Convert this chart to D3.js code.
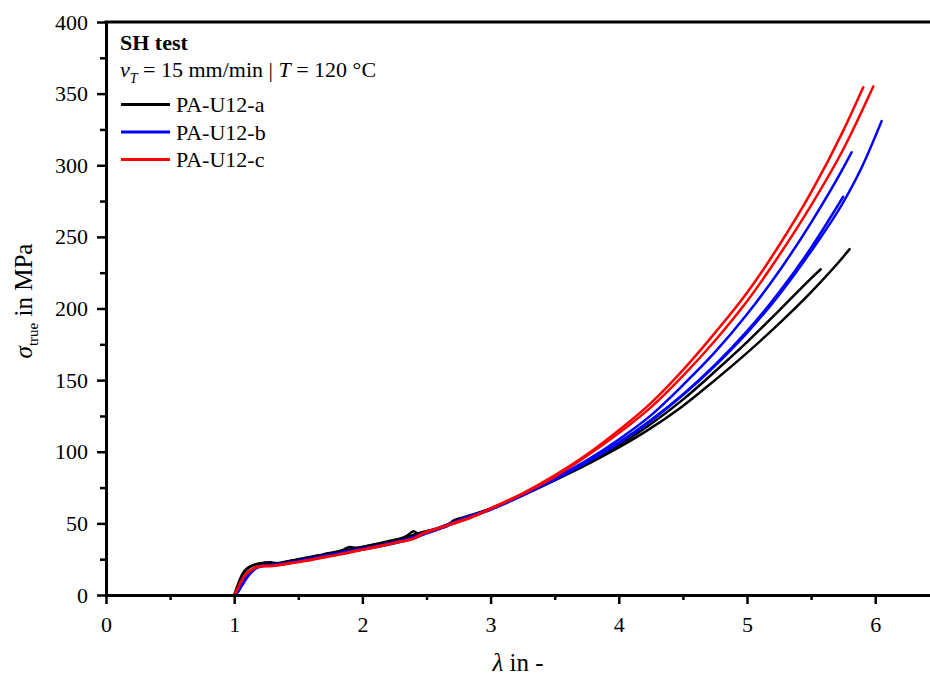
<!DOCTYPE html>
<html>
<head>
<meta charset="utf-8">
<script src="https://cdn.jsdelivr.net/npm/d3@7"></script>
<style>
  body { margin: 0; background: #fff; }
  svg { display: block; }
  text { font-family: "Liberation Serif", "Times New Roman", serif; fill: #000; }
</style>
</head>
<body>
<svg id="chart" width="930" height="676"></svg>
<script>
// ---- data: true stress vs. stretch, SH test at 120 °C ----
const sampleNames = ["PA-U12-a", "PA-U12-b", "PA-U12-c"];

const xTicks = [0, 1, 2, 3, 4, 5, 6];
const xMinorTicks = [0.5, 1.5, 2.5, 3.5, 4.5, 5.5];
const yTicks = [0, 50, 100, 150, 200, 250, 300, 350, 400];
const yMinorTicks = [25, 75, 125, 175, 225, 275, 325, 375];

// PA-U12-a, specimen 1
const lambdaA1 = [1.00,1.02,1.045,1.07,1.10,1.14,1.20,1.28,1.33,1.40,1.55,1.70,1.85,1.90,1.95,2.05,2.20,2.35,2.40,2.44,2.50,2.60,2.66,2.71,2.80,3.00,3.25,3.50,3.75,4.00,4.25,4.50,4.75,5.00,5.25,5.50,5.75,5.80];
const sigmaA1  = [0,5,11,15.5,18.5,20.5,22,22.8,22.2,23.2,25.8,28.5,31.5,33.5,33,34.5,37.5,41.5,44.5,42.5,44.5,46.5,48,52,54.5,60,69.5,80,91,103,116.5,132,150,169,189.5,211.5,236,241.4];
// PA-U12-a, specimen 2
const lambdaA2 = [1.00,1.02,1.045,1.07,1.10,1.14,1.20,1.28,1.33,1.40,1.55,1.70,1.85,2.00,2.20,2.35,2.45,2.55,2.70,2.85,3.00,3.25,3.50,3.75,4.00,4.25,4.50,4.75,5.00,5.25,5.50,5.575];
const sigmaA2  = [0,4.5,10.5,15,18,20.5,22,22.5,22,23,25.5,28.2,31,33.5,37,40.5,43.5,45.5,50.5,55.5,60.5,70,81,92,104.5,119.3,136.4,156,176.5,198.5,221,227.4];

// PA-U12-b, specimens 1–3
const lambdaB1 = [1.00,1.02,1.04,1.07,1.10,1.13,1.17,1.22,1.30,1.40,1.55,1.70,1.85,2.00,2.15,2.30,2.40,2.50,2.60,2.70,2.85,3.00,3.25,3.50,3.75,4.00,4.25,4.50,4.75,5.00,5.25,5.50,5.75,5.816];
const sigmaB1  = [0,1.5,4.5,9,13,16.5,19,20.5,21,22,24.5,27,29.5,32,34.5,37.5,40,43.5,46.5,50,55,60,70,81.5,94,108.6,125.4,146.5,169.5,196,226,260,298,309];
const lambdaB2 = [1.00,1.02,1.04,1.07,1.10,1.13,1.17,1.22,1.30,1.40,1.55,1.70,1.85,2.00,2.15,2.30,2.40,2.50,2.60,2.70,2.85,3.00,3.25,3.50,3.75,4.00,4.25,4.50,4.75,5.00,5.25,5.50,5.75];
const sigmaB2  = [0,2,5.5,10,14,17,19.5,20.5,21.2,22.3,24.8,27.3,30,32.5,35,38,40.5,44,47,50.5,55.5,60,70,81,93,106.4,122.1,140,160.6,184.2,211.3,242.4,278];
const lambdaB3 = [1.00,1.02,1.04,1.07,1.10,1.13,1.17,1.22,1.30,1.40,1.55,1.70,1.85,2.00,2.15,2.30,2.40,2.50,2.60,2.70,2.85,3.00,3.25,3.50,3.75,4.00,4.25,4.50,4.75,5.00,5.25,5.50,5.75,5.90,6.05];
const sigmaB3  = [0,1,3.5,8,12,15.5,18.5,20,20.8,21.8,24.2,26.8,29.3,31.8,34.2,37.2,39.5,43,46,49.5,54.5,59.5,69.5,80.5,92.5,106,121.5,139.5,160,183,209.5,240,274,299.5,330.8];

// PA-U12-c, specimens 1–2
const lambdaC1 = [1.00,1.02,1.05,1.08,1.12,1.16,1.22,1.30,1.40,1.55,1.70,1.85,2.00,2.15,2.30,2.40,2.48,2.60,2.70,2.85,3.00,3.25,3.50,3.75,4.00,4.25,4.50,4.75,5.00,5.25,5.50,5.75,5.907];
const sigmaC1  = [0,3.5,9,13.5,17,19,20.3,20.5,21.8,24,26.5,29,31.8,34.5,37.5,39.5,43.5,47,50,54.5,60.5,71,83.5,98,115,134,157,183,211,244,281,324,354.5];
const lambdaC2 = [1.00,1.02,1.05,1.08,1.12,1.16,1.22,1.30,1.40,1.55,1.70,1.85,2.00,2.15,2.30,2.40,2.48,2.60,2.70,2.85,3.00,3.25,3.50,3.75,4.00,4.25,4.50,4.75,5.00,5.25,5.50,5.75,5.985];
const sigmaC2  = [0,3,8.5,13,16.5,18.8,20,20.3,21.5,23.7,26.2,28.7,31.5,34.2,37.2,39.2,43,46.5,49.5,54,60,70.5,82.5,97,113,131,153,177.5,205,237,272,311,355];

// grouped per sample, drawn black → blue → red
const samples = [
  { name: sampleNames[0], curves: [[lambdaA1, sigmaA1], [lambdaA2, sigmaA2]] },
  { name: sampleNames[1], curves: [[lambdaB1, sigmaB1], [lambdaB2, sigmaB2], [lambdaB3, sigmaB3]] },
  { name: sampleNames[2], curves: [[lambdaC1, sigmaC1], [lambdaC2, sigmaC2]] }
];
const colors = { "PA-U12-a": "#000000", "PA-U12-b": "#0000ff", "PA-U12-c": "#ff0000" };

// ---- layout ----
const svg = d3.select("#chart");
const plot = { left: 106, top: 22, bottom: 595 };
const x = d3.scaleLinear().domain([0, 6.5]).range([plot.left, plot.left + 6.5 * 128.2]);
const y = d3.scaleLinear().domain([0, 400]).range([plot.bottom, plot.top]);

// curves
const line = d3.line().x(d => x(d[0])).y(d => y(d[1])).curve(d3.curveMonotoneX);
const curveLayer = svg.append("g");
samples.forEach(s => {
  s.curves.forEach(([lam, sig]) => {
    curveLayer.append("path")
      .datum(lam.map((l, i) => [l, sig[i]]))
      .attr("d", line)
      .attr("fill", "none")
      .attr("stroke", colors[s.name])
      .attr("stroke-width", 2.5)
      .attr("stroke-linejoin", "round")
      .attr("stroke-linecap", "round");
  });
});

// axes
function styleAxis(g) {
  g.select(".domain").attr("stroke", "#000").attr("stroke-width", 3);
  g.selectAll(".tick line").attr("stroke", "#000").attr("stroke-width", 2.5);
  g.selectAll(".tick text").attr("font-size", 22).attr("fill", "#000")
    .attr("font-family", "\"Liberation Serif\", \"Times New Roman\", serif");
}

svg.append("g").attr("transform", `translate(0,${plot.bottom})`)
  .call(d3.axisBottom(x).tickValues(xMinorTicks).tickSize(5).tickFormat(""))
  .call(g => g.select(".domain").remove())
  .call(styleAxis);
svg.append("g").attr("transform", `translate(${plot.left},0)`)
  .call(d3.axisLeft(y).tickValues(yMinorTicks).tickSize(6).tickFormat(""))
  .call(g => g.select(".domain").remove())
  .call(styleAxis);

svg.append("g").attr("transform", `translate(0,${plot.bottom})`)
  .call(d3.axisBottom(x).tickValues(xTicks).tickSize(9).tickSizeOuter(0).tickPadding(12).tickFormat(d3.format("d")))
  .call(styleAxis);
svg.append("g").attr("transform", `translate(${plot.left},0)`)
  .call(d3.axisLeft(y).tickValues(yTicks).tickSize(9).tickSizeOuter(0).tickPadding(9).tickFormat(d3.format("d")))
  .call(styleAxis);

// top frame line
svg.append("line")
  .attr("x1", plot.left - 1.5).attr("x2", x(6.5))
  .attr("y1", y(400)).attr("y2", y(400))
  .attr("stroke", "#000").attr("stroke-width", 3);

// axis titles
const xTitle = svg.append("text")
  .attr("x", 518).attr("y", 671)
  .attr("text-anchor", "middle").attr("font-size", 25);
xTitle.append("tspan").attr("font-style", "italic").text("λ");
xTitle.append("tspan").text(" in -");

const yTitle = svg.append("text")
  .attr("transform", "translate(32,301) rotate(-90)")
  .attr("text-anchor", "middle").attr("font-size", 25);
yTitle.append("tspan").attr("font-style", "italic").text("σ");
yTitle.append("tspan").attr("font-size", 15).attr("dy", 6).text("true");
yTitle.append("tspan").attr("dy", -6).text(" in MPa");

// legend
const legend = svg.append("g");
legend.append("text").attr("x", 120).attr("y", 50)
  .attr("font-size", 22).attr("font-weight", "bold").text("SH test");

const cond = legend.append("text").attr("x", 120).attr("y", 77).attr("font-size", 22);
cond.append("tspan").attr("font-style", "italic").text("v");
cond.append("tspan").attr("font-style", "italic").attr("font-size", 14).attr("dy", 6).text("T");
cond.append("tspan").attr("dy", -6).text(" = 15 mm/min | ");
cond.append("tspan").attr("font-style", "italic").text("T");
cond.append("tspan").text(" = 120 °C");

const legendRows = legend.selectAll("g.row").data(sampleNames).join("g")
  .attr("class", "row")
  .attr("transform", (d, i) => `translate(0,${104.5 + i * 27.5})`);
legendRows.append("line")
  .attr("x1", 121).attr("x2", 170).attr("y1", 0).attr("y2", 0)
  .attr("stroke", d => colors[d]).attr("stroke-width", 2.8);
legendRows.append("text")
  .attr("x", 176).attr("y", 7.5).attr("font-size", 22)
  .text(d => d);
</script>
</body>
</html>
